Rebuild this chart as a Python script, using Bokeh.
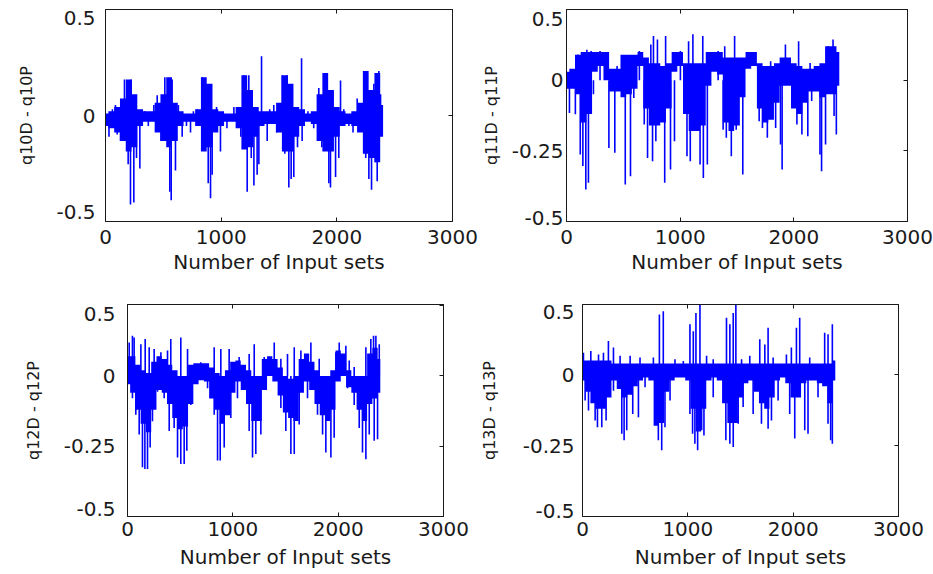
from bokeh.plotting import figure
from bokeh.layouts import column, row
from bokeh.models import LinearAxis, FixedTicker, Range1d
from bokeh.embed import file_html
from bokeh.resources import INLINE

FONT = "DejaVu Sans"
BLUE = "#0000ff"
INK = "#1a1a1a"

x_ticks = [0, 1000, 2000, 3000]
x_label = "Number of Input sets"

# dense-band sample positions (input-set index)
band_x = [0, 50, 100, 150, 200, 250, 300, 350, 400, 450, 500, 550, 600, 650, 700, 750,
          800, 850, 900, 950, 1000, 1050, 1100, 1150, 1200, 1250, 1300, 1350, 1400, 1450,
          1500, 1550, 1600, 1650, 1700, 1750, 1800, 1850, 1900, 1950, 2000, 2050, 2100,
          2150, 2200, 2250, 2300, 2350, 2400]

# ---------------- q10D - q10P ----------------
q10_hi = [0.01, 0.02, 0.04, 0.08, 0.17, 0.10, 0.03, 0.02, 0.02, 0.06, 0.10, 0.18, 0.06, 0.02,
          0.01, 0.01, 0.03, 0.18, 0.15, 0.03, 0.02, 0.01, 0.01, 0.04, 0.19, 0.12, 0.04, 0.02,
          0.02, 0.02, 0.06, 0.19, 0.15, 0.04, 0.03, 0.01, 0.02, 0.10, 0.20, 0.12, 0.04, 0.02,
          0.01, 0.02, 0.06, 0.21, 0.12, 0.20, 0.05]
q10_lo = [-0.05, -0.06, -0.08, -0.12, -0.17, -0.15, -0.05, -0.03, -0.03, -0.08, -0.12, -0.15,
          -0.12, -0.05, -0.03, -0.03, -0.05, -0.17, -0.15, -0.08, -0.05, -0.03, -0.03, -0.06,
          -0.16, -0.15, -0.10, -0.05, -0.04, -0.04, -0.08, -0.17, -0.17, -0.10, -0.05, -0.03,
          -0.04, -0.12, -0.17, -0.17, -0.10, -0.05, -0.04, -0.05, -0.08, -0.18, -0.20, -0.22, -0.10]
q10_spike_x = [30, 60, 86, 101, 130, 164, 196, 216, 222, 245, 268, 297, 340, 370, 418, 447, 480,
               513, 556, 568, 576, 605, 630, 663, 700, 735, 760, 793, 836, 850, 888, 908, 922,
               960, 994, 1050, 1110, 1150, 1170, 1196, 1225, 1239, 1260, 1283, 1311, 1326, 1349,
               1398, 1420, 1455, 1480, 1527, 1550, 1571, 1585, 1605, 1628, 1660, 1695, 1700,
               1750, 1800, 1844, 1870, 1888, 1931, 1945, 1960, 1989, 2017, 2032, 2060, 2104,
               2140, 2176, 2200, 2234, 2250, 2262, 2277, 2300, 2320, 2334, 2349, 2363, 2378, 2390]
q10_spike_y = [-0.10, 0.03, 0.05, -0.09, -0.12, 0.17, -0.23, -0.42, 0.17, -0.41, -0.20, -0.25,
               0.02, -0.05, 0.05, 0.095, -0.12, 0.18, -0.36, -0.40, 0.17, -0.26, 0.05, -0.10,
               -0.05, -0.08, 0.02, 0.03, 0.18, -0.15, -0.32, -0.39, -0.28, 0.04, -0.17, -0.06,
               0.04, 0.03, -0.10, 0.19, -0.36, 0.19, -0.20, -0.33, -0.28, -0.23, 0.28, -0.12,
               0.03, 0.05, -0.08, 0.19, -0.18, 0.19, -0.34, -0.30, -0.29, -0.15, 0.27, -0.12,
               0.02, -0.06, 0.13, -0.15, 0.20, -0.32, -0.34, 0.10, -0.29, -0.20, 0.165, 0.03,
               -0.05, -0.08, 0.08, 0.05, 0.21, -0.20, 0.21, -0.30, -0.35, 0.15, -0.22, -0.31,
               0.21, 0.10, -0.08]

# ---------------- q11D - q11P ----------------
q11_hi = [0.03, 0.04, 0.09, 0.10, 0.10, 0.10, 0.10, 0.10, 0.04, 0.04, 0.09, 0.09, 0.09, 0.10,
          0.08, 0.06, 0.06, 0.05, 0.06, 0.10, 0.10, 0.06, 0.06, 0.06, 0.06, 0.10, 0.10, 0.10,
          0.08, 0.08, 0.08, 0.08, 0.10, 0.10, 0.06, 0.05, 0.05, 0.06, 0.08, 0.08, 0.06, 0.05,
          0.04, 0.04, 0.05, 0.06, 0.12, 0.12, 0.10]
q11_lo = [-0.03, -0.03, -0.05, -0.15, -0.12, 0.03, 0.05, 0.00, -0.04, -0.04, -0.06, -0.05,
          -0.03, 0.05, -0.10, -0.16, -0.16, -0.15, -0.10, 0.03, 0.05, -0.12, -0.18, -0.18,
          -0.16, -0.02, 0.03, 0.02, -0.15, -0.18, -0.16, -0.06, 0.04, 0.05, -0.10, -0.15,
          -0.14, -0.08, -0.02, -0.02, -0.10, -0.12, -0.08, -0.04, -0.04, -0.06, -0.05, -0.05, -0.02]
q11_spike_x = [26, 49, 78, 101, 121, 144, 170, 179, 193, 217, 237, 295, 373, 425, 445, 517, 563,
               592, 598, 641, 684, 713, 742, 757, 765, 786, 800, 864, 872, 915, 950, 1002, 1060,
               1074, 1089, 1112, 1175, 1199, 1204, 1239, 1334, 1378, 1392, 1406, 1450, 1479,
               1493, 1551, 1695, 1724, 1767, 1796, 1840, 1883, 1897, 1926, 2027, 2042, 2071,
               2123, 2143, 2157, 2230, 2244, 2279, 2302, 2345, 2354, 2374]
q11_spike_y = [-0.116, 0.038, -0.121, 0.091, -0.263, -0.304, -0.387, 0.108, -0.363, 0.103, -0.05,
               0.103, -0.24, -0.257, 0.05, -0.369, -0.34, -0.063, 0.085, 0.103, -0.157, -0.275,
               0.126, -0.287, 0.156, -0.216, 0.144, -0.363, 0.156, -0.316, -0.216, 0.103, -0.269,
               0.138, -0.287, 0.162, -0.298, 0.156, -0.346, -0.298, 0.103, -0.175, 0.12, -0.204,
               -0.269, 0.156, -0.175, -0.334, -0.145, -0.169, -0.204, 0.067, -0.169, -0.228,
               -0.316, 0.126, -0.157, 0.138, -0.192, -0.198, 0.061, -0.074, -0.263, -0.322,
               -0.228, 0.12, 0.144, -0.127, -0.192]

# ---------------- q12D - q12P ----------------
q12_hi = [0.07, 0.07, 0.04, 0.02, 0.01, 0.05, 0.07, 0.06, 0.04, 0.02, 0.00, 0.00, 0.04, 0.045,
          0.045, 0.045, 0.03, 0.01, 0.00, 0.02, 0.05, 0.055, 0.04, 0.02, 0.00, 0.00, 0.06, 0.07,
          0.06, 0.03, 0.00, -0.01, 0.00, 0.06, 0.08, 0.05, 0.02, 0.00, 0.00, 0.02, 0.09, 0.08,
          0.02, 0.00, 0.00, 0.00, 0.08, 0.10, 0.06]
q12_lo = [-0.03, -0.06, -0.12, -0.17, -0.20, -0.12, -0.05, -0.06, -0.10, -0.15, -0.19, -0.18,
          -0.10, -0.03, -0.015, -0.02, -0.08, -0.12, -0.17, -0.14, -0.06, -0.02, -0.05, -0.10,
          -0.16, -0.16, -0.05, 0.00, -0.02, -0.07, -0.13, -0.15, -0.16, -0.06, -0.02, -0.05,
          -0.10, -0.14, -0.16, -0.12, -0.02, 0.00, -0.04, -0.06, -0.12, -0.16, -0.10, -0.08, -0.06]
q12_spike_x = [16, 47, 47, 63, 79, 111, 127, 142, 165, 168, 190, 206, 215, 237, 253, 285, 317,
               348, 380, 396, 411, 443, 475, 506, 506, 538, 563, 570, 601, 696, 760, 823, 823,
               855, 880, 886, 918, 965, 981, 1044, 1060, 1155, 1155, 1187, 1203, 1218, 1266,
               1298, 1393, 1456, 1456, 1503, 1519, 1551, 1583, 1583, 1630, 1646, 1709, 1741,
               1804, 1820, 1852, 1883, 1931, 1962, 1978, 2010, 2073, 2089, 2105, 2152, 2152,
               2200, 2231, 2263, 2263, 2295, 2310, 2336, 2342, 2358, 2374, 2390]
q12_spike_y = [0.119, 0.143, -0.079, 0.137, -0.138, -0.208, 0.113, -0.325, -0.331, 0.131, -0.331,
               0.102, -0.255, -0.161, 0.096, -0.056, 0.084, -0.079, 0.09, -0.196, 0.131, -0.185,
               -0.29, 0.137, -0.313, -0.313, -0.266, 0.096, -0.103, 0.049, -0.044, 0.102, -0.138,
               -0.301, -0.301, 0.096, -0.255, 0.096, -0.15, -0.079, 0.067, 0.078, -0.196, -0.29,
               0.113, -0.278, -0.208, 0.067, 0.119, 0.061, -0.114, -0.196, 0.078, -0.278, 0.102,
               -0.278, -0.173, 0.09, -0.079, 0.119, -0.138, 0.061, -0.208, -0.272, -0.29, -0.22,
               0.084, 0.119, 0.107, -0.044, 0.055, 0.032, -0.103, -0.185, -0.272, 0.102, -0.296,
               -0.208, 0.131, 0.143, -0.231, 0.143, -0.225, 0.113]

# ---------------- q13D - q13P ----------------
q13_hi = [0.05, 0.05, 0.05, 0.05, 0.05, 0.05, 0.04, 0.04, 0.04, 0.04, 0.04, 0.04, 0.04, 0.04,
          0.04, 0.04, 0.04, 0.04, 0.04, 0.04, 0.04, 0.04, 0.04, 0.04, 0.04, 0.04, 0.04, 0.04,
          0.04, 0.04, 0.04, 0.04, 0.04, 0.04, 0.04, 0.04, 0.04, 0.04, 0.04, 0.04, 0.04, 0.04,
          0.04, 0.04, 0.04, 0.04, 0.04, 0.04, 0.05]
q13_lo = [-0.02, -0.06, -0.10, -0.12, -0.12, -0.08, -0.02, -0.05, -0.08, -0.07, -0.04, -0.02,
          -0.01, -0.02, -0.18, -0.17, -0.06, -0.02, -0.01, -0.01, -0.02, -0.12, -0.20, -0.12,
          -0.02, -0.01, -0.02, -0.10, -0.17, -0.17, -0.08, -0.03, -0.02, -0.06, -0.10, -0.12,
          -0.08, -0.02, -0.01, -0.03, -0.08, -0.08, -0.03, -0.02, -0.02, -0.03, -0.04, -0.10, -0.02]
q13_spike_x = [9, 25, 57, 79, 120, 142, 152, 183, 199, 224, 246, 294, 294, 357, 373, 395, 420,
               452, 477, 531, 546, 594, 673, 688, 720, 730, 752, 767, 783, 831, 878, 957, 1020,
               1020, 1045, 1052, 1067, 1077, 1093, 1115, 1131, 1153, 1178, 1241, 1241, 1361,
               1367, 1399, 1399, 1431, 1431, 1456, 1478, 1510, 1525, 1588, 1620, 1683, 1699,
               1731, 1762, 1762, 1794, 1810, 1857, 1936, 1967, 1983, 2015, 2031, 2062, 2110,
               2141, 2157, 2236, 2299, 2331, 2331, 2356, 2372, 2372]
q13_spike_y = [0.078, -0.091, -0.126, 0.084, -0.161, -0.185, 0.072, -0.185, 0.078, -0.161, 0.119,
               0.096, -0.056, 0.067, -0.208, -0.231, -0.196, 0.067, -0.138, -0.15, 0.061, -0.044,
               0.061, -0.173, -0.231, 0.213, -0.266, 0.224, -0.185, -0.091, 0.055, 0.049, 0.178,
               -0.138, -0.208, 0.154, -0.243, 0.218, -0.266, 0.248, -0.196, -0.214, 0.067, 0.055,
               -0.079, -0.231, 0.201, 0.178, -0.243, 0.218, -0.255, 0.248, -0.173, 0.055, -0.114,
               0.067, -0.138, 0.125, -0.173, 0.107, 0.166, -0.19, -0.161, 0.061, -0.091, 0.072,
               -0.138, 0.096, -0.225, 0.166, 0.201, -0.196, -0.208, 0.061, -0.079, 0.148, 0.143,
               -0.173, -0.231, 0.178, -0.243]

y_real_ticks_a = [-0.5, 0.0, 0.5]
y_real_ticks_b = [-0.5, -0.25, 0.0, 0.25]


def tick_only_axis(ticks):
    return LinearAxis(ticker=FixedTicker(ticks=ticks, minor_ticks=[]),
                      major_label_overrides={t: "" for t in ticks},
                      major_label_text_font_size="1px", major_label_standoff=0,
                      major_tick_in=4, major_tick_out=0, axis_line_color=INK,
                      major_tick_line_color=INK)


def panel(width, height, bl, br, bt, bb, yr, lab_pos, lab_txt, real_ticks, ylabel,
          y_mls, y_als, x_mls, x_als, hi, lo, sx, sy):
    p = figure(width=width, height=height, x_range=Range1d(0, 3000), y_range=Range1d(*yr),
               output_backend="svg", toolbar_location=None,
               min_border_left=bl, min_border_right=br, min_border_top=bt, min_border_bottom=bb,
               background_fill_color="white", border_fill_color="white")
    p.grid.visible = False
    p.outline_line_color = INK
    p.outline_line_width = 1

    p.varea_step(x=band_x, y1=lo, y2=hi, step_mode="center", fill_color=BLUE)
    p.segment(x0=sx, y0=0, x1=sx, y1=sy, line_color=BLUE, line_width=1.6)

    xa = p.xaxis[0]
    xa.ticker = FixedTicker(ticks=x_ticks, minor_ticks=[])
    xa.major_tick_in = 4
    xa.major_tick_out = 0
    xa.major_tick_line_color = INK
    xa.axis_line_color = INK
    xa.major_label_text_font = FONT
    xa.major_label_text_font_size = "20px"
    xa.major_label_text_color = INK
    xa.major_label_standoff = x_mls
    xa.axis_label = x_label
    xa.axis_label_text_font = FONT
    xa.axis_label_text_font_size = "20px"
    xa.axis_label_text_font_style = "normal"
    xa.axis_label_text_color = INK
    xa.axis_label_standoff = x_als

    ya = p.yaxis[0]
    ya.ticker = FixedTicker(ticks=lab_pos, minor_ticks=[])
    ya.major_label_overrides = {k: t for k, t in zip(lab_pos, lab_txt)}
    ya.major_tick_in = 0
    ya.major_tick_out = 0
    ya.axis_line_color = INK
    ya.major_label_text_font = FONT
    ya.major_label_text_font_size = "20px"
    ya.major_label_text_color = INK
    ya.major_label_standoff = y_mls
    ya.axis_label = ylabel
    ya.axis_label_text_font = FONT
    ya.axis_label_text_font_size = "16px"
    ya.axis_label_text_font_style = "normal"
    ya.axis_label_text_color = INK
    ya.axis_label_standoff = y_als

    p.add_layout(tick_only_axis(real_ticks), "right")
    p.add_layout(tick_only_axis(x_ticks), "above")
    return p


pA = panel(478, 287, 105, 26, 9, 66, (-0.5, 0.5), [0.462, 0.0, -0.453], ["0.5", "0", "-0.5"],
           y_real_ticks_a, "q10D - q10P", 10, 17, 8, 3, q10_hi, q10_lo, q10_spike_x, q10_spike_y)
pB = panel(455, 287, 82, 26, 7, 66, (-0.5, 0.25), [0.218, 0.0, -0.25, -0.486],
           ["0.5", "0", "-0.25", "-0.5"], y_real_ticks_b, "q11D - q11P", 3, 8, 8, 3,
           q11_hi, q11_lo, q11_spike_x, q11_spike_y)
pC = panel(474, 287, 127, 31, 15, 58, (-0.5, 0.254), [0.22, 0.0, -0.25, -0.473],
           ["0.5", "0", "-0.25", "-0.5"], y_real_ticks_b, "q12D - q12P", 12, 18, 5, 6,
           q12_hi, q12_lo, q12_spike_x, q12_spike_y)
pD = panel(459, 287, 108, 35, 17, 58, (-0.5, 0.248), [0.22, 0.0, -0.25, -0.479],
           ["0.5", "0", "-0.25", "-0.5"], y_real_ticks_b, "q13D - q13P", 8, 21, 5, 6,
           q13_hi, q13_lo, q13_spike_x, q13_spike_y)

layout = column(row(pA, pB), row(pC, pD))
open("out.html", "w").write(file_html(layout, INLINE))
